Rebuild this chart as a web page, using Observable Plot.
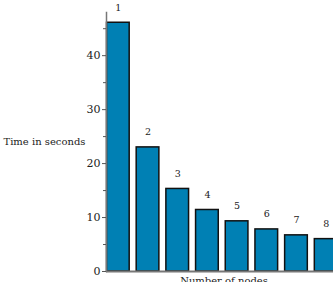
<!DOCTYPE html>
<html>
<head>
<meta charset="utf-8">
<script src="https://cdn.jsdelivr.net/npm/d3@7"></script>
<script src="https://cdn.jsdelivr.net/npm/@observablehq/plot@0.6"></script>
<style>
  html, body { margin: 0; padding: 0; background: white; overflow: hidden; }
  svg { overflow: hidden; }
</style>
</head>
<body>
<div id="chart"></div>
<script>
const nodes = ["1", "2", "3", "4", "5", "6", "7", "8"];
const seconds = [46.1, 23.0, 15.3, 11.4, 9.3, 7.8, 6.7, 6.0];
const majorTicks = [0, 10, 20, 30, 40];
const minorTicks = [5, 15, 25, 35, 45];
const yTitle = "Time in seconds";
const xTitle = "Number of nodes";

const data = nodes.map((n, i) => ({node: n, time: seconds[i]}));
const font = "DejaVu Serif";

const chart = Plot.plot({
  width: 333,
  height: 282,
  marginLeft: 106,
  marginRight: 0,
  marginTop: 12,
  marginBottom: 11,
  style: {fontFamily: font, background: "white", overflow: "hidden"},
  x: {domain: nodes, range: [106.5, 337], paddingInner: 0.236, paddingOuter: 0, round: false, axis: null},
  y: {domain: [0, 48], axis: null},
  marks: [
    Plot.barY(data, {x: "node", y: "time", fill: "#0080b4", stroke: "#111", strokeWidth: 1.5}),
    Plot.text(data, {x: "node", y: "time", text: "node", dy: -15, fontSize: 9.5, fill: "#222", fontFamily: font}),
    Plot.ruleY([0], {stroke: "#777", strokeWidth: 2}),
    Plot.frame({anchor: "left", stroke: "#777", strokeWidth: 1.5}),
    Plot.axisY(majorTicks, {anchor: "left", label: null, tickSize: 4, tickPadding: 2, fontSize: 11, stroke: "#555", fill: "#222", fontFamily: font}),
    Plot.axisY(minorTicks, {anchor: "left", label: null, tickSize: 3, tickFormat: () => "", stroke: "#555"}),
    Plot.text([yTitle], {frameAnchor: "left", textAnchor: "start", dx: -103, fontSize: 10, fill: "#222", fontFamily: font}),
    Plot.text([xTitle], {frameAnchor: "bottom", lineAnchor: "top", dy: 5, dx: 4, fontSize: 10, fill: "#222", fontFamily: font})
  ]
});
document.getElementById("chart").appendChild(chart);
</script>
</body>
</html>
